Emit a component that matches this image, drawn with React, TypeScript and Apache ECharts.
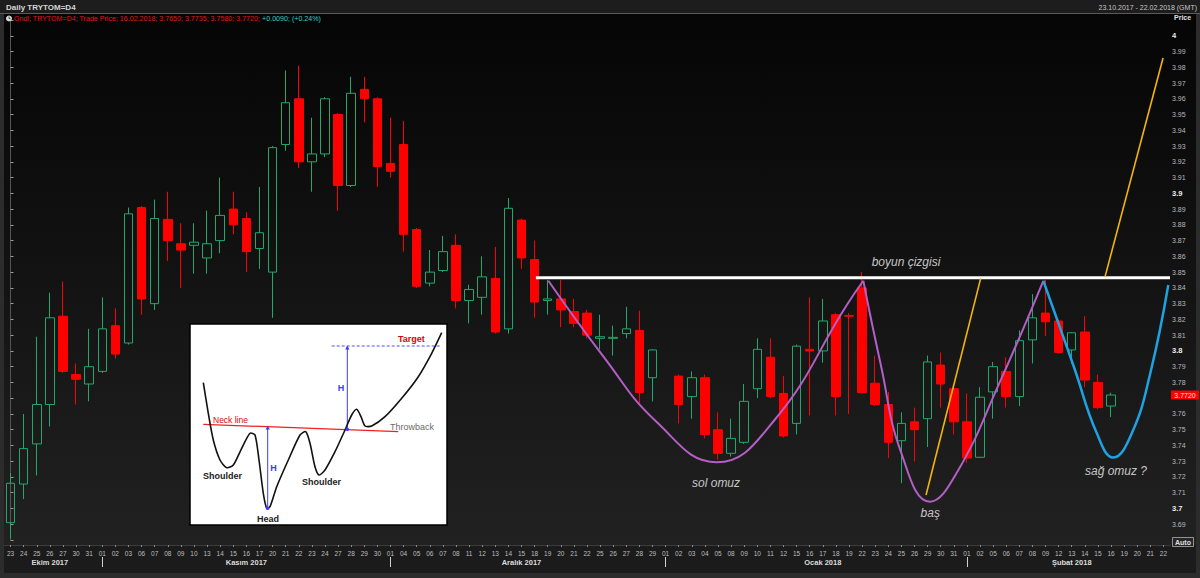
import React, { useEffect, useRef } from "react";
import * as echarts from "echarts";

// ---------- DATA ----------
const dates = [
  "23","24","25","26","27","30","31",
  "01","02","03","06","07","08","09","10","13","14","15","16","17","20","21","22","23","24","27","28","29","30",
  "01","04","05","06","07","08","11","12","13","14","15","18","19","20","21","22","25","26","27","28","29",
  "01","02","03","04","05","08","09","10","11","12","15","16","17","18","19","22","23","24","25","26","29","30","31",
  "01","02","05","06","07","08","09","12","13","14","15","16","19","20","21","22",
];
const monthNames = ["Ekim 2017", "Kasım 2017", "Aralık 2017", "Ocak 2018", "Şubat 2018"];
const monthLabelIdx = [3, 18, 39, 62, 81];
const monthStartIdx = [7, 29, 50, 73];

const opens: (number | null)[] = [
  3.691,3.7155,3.741,3.766,3.822,3.785,3.779,3.787,3.816,3.805,3.891,3.830,3.8835,3.868,3.867,3.859,3.870,3.890,3.884,3.865,
  3.850,3.931,3.960,3.920,3.925,3.950,3.905,3.966,3.960,3.919,3.931,3.877,3.843,3.851,3.867,3.832,3.834,3.846,3.814,3.883,
  3.858,3.832,3.833,3.825,3.824,3.808,3.808,3.811,3.813,3.783,null,3.784,3.771,3.783,3.750,3.735,3.742,3.776,3.796,3.773,
  3.754,3.801,3.800,3.823,3.8225,3.840,3.7795,3.766,3.743,3.755,3.757,3.791,3.776,3.755,3.7325,3.774,3.787,3.771,3.807,3.824,
  3.819,3.8006,3.812,3.780,3.765,
];
const highs: (number | null)[] = [
  3.7225,3.760,3.809,3.837,3.844,3.792,3.814,3.834,3.827,3.891,3.892,3.896,3.901,3.881,3.881,3.889,3.910,3.901,3.888,3.904,
  3.930,3.978,3.981,3.948,3.961,3.951,3.974,3.974,3.961,3.948,3.946,3.878,3.864,3.873,3.874,3.842,3.860,3.866,3.897,3.884,
  3.870,3.845,3.845,3.833,3.826,3.823,3.816,3.828,3.8255,3.801,null,3.785,3.787,3.785,3.761,3.757,3.779,3.808,3.808,3.784,
  3.804,3.834,3.833,3.824,3.824,3.850,3.797,3.774,3.761,3.764,3.797,3.799,3.777,3.773,3.777,3.793,3.796,3.813,3.836,3.845,
  3.820,3.812,3.822,3.785,3.7735,
];
const lows: (number | null)[] = [
  3.681,3.706,3.721,3.752,3.786,3.766,3.768,3.786,3.795,3.804,3.823,3.826,3.857,3.840,3.849,3.849,3.862,3.874,3.850,3.852,
  3.821,3.927,3.916,3.901,3.923,3.889,3.904,3.945,3.904,3.910,3.863,3.840,3.841,3.850,3.827,3.8175,3.823,3.811,3.811,3.852,
  3.821,3.823,3.815,3.815,3.808,3.801,3.797,3.808,3.767,3.768,null,3.754,3.757,3.7445,3.731,3.733,3.741,3.770,3.770,3.745,
  3.747,3.759,3.7925,3.759,3.760,3.773,3.765,3.732,3.716,3.730,3.739,3.764,3.747,3.729,3.732,3.757,3.764,3.765,3.792,3.8095,
  3.7985,3.792,3.777,3.763,3.758,
];
const closes: (number | null)[] = [
  3.716,3.738,3.766,3.821,3.787,3.782,3.790,3.814,3.798,3.887,3.833,3.884,3.870,3.864,3.869,3.868,3.886,3.880,3.863,3.875,
  3.929,3.9575,3.920,3.925,3.960,3.905,3.9635,3.960,3.917,3.914,3.874,3.841,3.850,3.863,3.832,3.839,3.847,3.812,3.8905,3.859,
  3.831,3.833,3.826,3.8175,3.810,3.809,3.8086,3.814,3.7735,3.8006,null,3.766,3.783,3.747,3.735,3.7445,3.768,3.801,3.771,3.746,
  3.803,3.800,3.819,3.771,3.822,3.7735,3.766,3.742,3.754,3.750,3.793,3.779,3.755,3.732,3.7706,3.790,3.771,3.8065,3.821,3.8185,
  3.799,3.8115,3.7815,3.764,3.772,
];
const lastPriceLabel = "3.7720";

// drawn annotations, in [day index, price]
const neckLine = [[40.1, 3.8465], [88.5, 3.8465]];
const leftShoulderCurve = [
  [41.05, 3.8445], [45.2, 3.797], [49.3, 3.755], [53.9, 3.7293],
  [58.3, 3.756], [63.82, 3.829], [65.09, 3.8445],
];
const headCurve = [
  [65.09, 3.8445], [66.4, 3.7922], [68.0, 3.735], [70.18, 3.7043],
  [72.2, 3.7223], [75.5, 3.780], [78.83, 3.8445],
];
const rightShoulderCurve = [
  [78.83, 3.8445], [81.2, 3.789], [82.9, 3.748], [84.17, 3.7323],
  [85.6, 3.748], [87.0, 3.786], [88.37, 3.8418],
];
const breakoutLine1 = [[69.88, 3.7086], [74.05, 3.846]];
const breakoutLine2 = [[83.54, 3.847], [87.97, 3.9859]];
const annotationTexts = [
  { name: "boyun çizgisi", value: [68.35, 3.8564] },
  { name: "sol omuz", value: [53.85, 3.7162] },
  { name: "baş", value: [70.2, 3.6971] },
  { name: "sağ omuz ?", value: [84.38, 3.7238] },
];

const headerTitle = "Daily TRYTOM=D4";
const headerRange = "23.10.2017 - 22.02.2018 (GMT)";
const headerInfo = "Gndl; TRYTOM=D4; Trade Price; 16.02.2018; 3.7650; 3.7735; 3.7580; 3.7720; ";
const headerChange = "+0.0090; (+0.24%)";

// inset illustration (a picture pasted on the chart), pixel shape
const insetCurve = [
  [203.3,382.7],[208.3,413.3],[213.3,440],[220,460],[226.7,467.7],[233.3,465],[241.7,448.3],[250,433.3],[255,435],
  [259,460],[263.3,493.3],[266.7,508.3],[270,506.7],[276.7,486.7],[288.3,460],[300,435],[305.7,431.7],[310,443.3],
  [315,466.7],[319,475],[325,470],[335,451.7],[345,430],[351.7,415],[356.7,409.3],[361,416.7],[365,426],[371.7,426],
  [385,416.7],[401.7,398.3],[418.3,376.7],[431.7,353.3],[441.7,332.7],
];

const FONT = '"Liberation Sans", Arial, sans-serif';

export default function App() {
  const ref = useRef<HTMLDivElement>(null);

  useEffect(() => {
    const chart = echarts.init(ref.current!, null, { renderer: "svg" });
    const candleData = opens.map((o, i) =>
      o == null ? ["-", "-", "-", "-"] : [o, closes[i], lows[i], highs[i]]
    );

    const lineSeries = (data: number[][], color: string, width: number, smooth: number | boolean) => ({
      type: "line",
      xAxisIndex: 2,
      yAxisIndex: 0,
      data,
      symbol: "none",
      smooth,
      lineStyle: { color, width },
      z: 5,
      silent: true,
    });

    const option: any = {
      animation: false,
      backgroundColor: "#2c2c2c",
      grid: { left: 4, right: 30, top: 20, height: 520 },
      xAxis: [
        {
          type: "category",
          position: "bottom",
          data: dates,
          boundaryGap: true,
          offset: 5,
          axisLine: { show: true, lineStyle: { color: "#3c3c3c" } },
          axisTick: { show: true, interval: 0, alignWithLabel: true, length: 2, lineStyle: { color: "#888" } },
          axisLabel: { interval: 0, fontSize: 6.5, color: "#bdbdbd", margin: 5, fontFamily: FONT },
          splitLine: { show: false },
        },
        {
          type: "category",
          position: "bottom",
          data: dates,
          boundaryGap: true,
          offset: 17,
          axisLine: { show: false },
          axisTick: {
            show: true,
            alignWithLabel: true,
            interval: (i: number) => monthStartIdx.includes(i),
            length: 10,
            lineStyle: { color: "#cfcfcf", width: 1 },
          },
          axisLabel: {
            interval: (i: number) => monthLabelIdx.includes(i),
            formatter: (_v: string, i: number) => monthNames[monthLabelIdx.indexOf(i)] ?? "",
            fontSize: 7.5,
            fontWeight: "bold",
            color: "#dcdcdc",
            margin: 1,
            fontFamily: FONT,
          },
          splitLine: { show: false },
        },
        { type: "value", position: "bottom", min: -0.5, max: 88.5, show: false },
      ],
      yAxis: [
        {
          type: "value",
          position: "right",
          min: 3.68,
          max: 4.01,
          interval: 0.01,
          axisLine: { show: true, lineStyle: { color: "#555" } },
          axisTick: { show: true, length: 3, lineStyle: { color: "#999" } },
          splitLine: { show: false },
          axisLabel: {
            margin: 2,
            fontSize: 7,
            color: "#b8b8b8",
            fontFamily: FONT,
            formatter: (v: number) => {
              const r = Math.round(v * 100);
              if (r > 400 || r < 369) return "";
              if (r === 377) return ""; // hidden behind the last-price label
              if (r % 10 === 0) return "{b|" + String(r / 100) + "}";
              return (r / 100).toFixed(2);
            },
            rich: { b: { fontWeight: "bold", color: "#eeeeee", fontSize: 7.5, fontFamily: FONT } },
          },
        },
      ],
      series: [
        {
          type: "candlestick",
          xAxisIndex: 0,
          yAxisIndex: 0,
          data: candleData,
          barWidth: 9,
          itemStyle: {
            color: "rgba(0,0,0,0)",
            color0: "#ff0000",
            borderColor: "#22a86a",
            borderColor0: "#ff0000",
            borderWidth: 1,
          },
          z: 3,
          silent: true,
        },
        lineSeries(neckLine, "#ffffff", 3, false),
        lineSeries(leftShoulderCurve, "#b45ec6", 2, 0.45),
        lineSeries(headCurve, "#b45ec6", 2, 0.45),
        lineSeries(rightShoulderCurve, "#1ea2e2", 2.5, 0.45),
        lineSeries(breakoutLine1, "#f3b50a", 1.6, false),
        lineSeries(breakoutLine2, "#f3b50a", 1.6, false),
        {
          type: "scatter",
          xAxisIndex: 2,
          yAxisIndex: 0,
          data: annotationTexts,
          symbolSize: 0,
          silent: true,
          z: 6,
          label: {
            show: true,
            position: "inside",
            formatter: "{b}",
            color: "#f2f2f2",
            fontSize: 12,
            fontStyle: "italic",
            fontFamily: FONT,
          },
        },
      ],
    };
    chart.setOption(option);

    const py = chart.convertToPixel({ yAxisIndex: 0 }, closes[closes.length - 1] as number) as number;

    const t = (x: number, y: number, text: string, font: string, fill: string, align = "left", z = 101) => ({
      type: "text",
      x,
      y,
      z,
      silent: true,
      style: { text, font, fill, textAlign: align, textVerticalAlign: "middle" },
    });

    const blue = "#3b3bff";
    const graphic: any[] = [
      // panel backgrounds
      {
        type: "rect", z: -10, silent: true,
        shape: { x: 4, y: 14, width: 1192, height: 531 },
        style: {
          fill: new echarts.graphic.LinearGradient(0, 0, 0, 1, [
            { offset: 0, color: "#050505" },
            { offset: 1, color: "#212121" },
          ]),
        },
      },
      { type: "rect", z: -10, silent: true, shape: { x: 4, y: 545, width: 1192, height: 28 }, style: { fill: "#1b1b1b" } },
      { type: "rect", z: -10, silent: true, shape: { x: 0, y: 0, width: 1200, height: 13 }, style: { fill: "#1d1d1d" } },
      { type: "line", z: -9, silent: true, shape: { x1: 0, y1: 13.5, x2: 1200, y2: 13.5 }, style: { stroke: "#5a5a5a", lineWidth: 1 } },
      t(6, 7, headerTitle, `bold 8px ${FONT}`, "#d6d6d6", "left", 10),
      t(1197, 7, headerRange, `7px ${FONT}`, "#c8c8c8", "right", 10),
      { type: "circle", z: 10, silent: true, shape: { cx: 9, cy: 18.5, r: 3 }, style: { fill: "#d8d8d8" } },
      { type: "line", z: 11, silent: true, shape: { x1: 9, y1: 18.5, x2: 9, y2: 16.5 }, style: { stroke: "#333", lineWidth: 0.8 } },
      { type: "line", z: 11, silent: true, shape: { x1: 9, y1: 18.5, x2: 10.5, y2: 18.5 }, style: { stroke: "#333", lineWidth: 0.8 } },
      {
        type: "text", z: 10, x: 14, y: 18.5, silent: true,
        style: {
          text: `{r|${headerInfo}}{c|${headerChange}}`,
          textVerticalAlign: "middle",
          rich: {
            r: { fill: "#e01818", font: `7.1px ${FONT}` },
            c: { fill: "#2cd0d0", font: `7.1px ${FONT}` },
          },
        },
      },
      t(1174, 17.5, "Price", `bold 7px ${FONT}`, "#e0e0e0", "left", 10),
      // Auto box
      { type: "rect", z: 10, silent: true, shape: { x: 1172.5, y: 537.5, width: 21, height: 9 }, style: { fill: "#262626", stroke: "#b0b0b0", lineWidth: 0.8 } },
      t(1183, 542, "Auto", `bold 7px ${FONT}`, "#e0e0e0", "center", 11),
      // last price label
      { type: "rect", z: 10, silent: true, shape: { x: 1171, y: py - 4.5, width: 28, height: 9 }, style: { fill: "#ff0000" } },
      t(1185, py, lastPriceLabel, `7px ${FONT}`, "#ffe0e0", "center", 11),

      // inset illustration
      { type: "rect", z: 100, silent: true, shape: { x: 190, y: 324, width: 257, height: 201 }, style: { fill: "#ffffff", stroke: "#000000", lineWidth: 1.5 } },
      { type: "line", z: 101, silent: true, shape: { x1: 203.3, y1: 424.3, x2: 398.3, y2: 431.7 }, style: { stroke: "#f02020", lineWidth: 1.3 } },
      { type: "polyline", z: 102, silent: true, shape: { points: insetCurve, smooth: 0.25 }, style: { stroke: "#111111", lineWidth: 1.6, fill: null } },
      { type: "line", z: 101, silent: true, shape: { x1: 267.7, y1: 427.3, x2: 267.7, y2: 508.3 }, style: { stroke: blue, lineWidth: 1 } },
      { type: "line", z: 101, silent: true, shape: { x1: 347.3, y1: 429.3, x2: 347.3, y2: 347.5 }, style: { stroke: blue, lineWidth: 1 } },
      { type: "line", z: 101, silent: true, shape: { x1: 331.7, y1: 346, x2: 441.7, y2: 346 }, style: { stroke: blue, lineWidth: 0.9, lineDash: [3, 2] } },
      { type: "polygon", z: 103, silent: true, shape: { points: [[267.7, 425.5], [265.6, 429.5], [269.8, 429.5]] }, style: { fill: blue } },
      { type: "polygon", z: 103, silent: true, shape: { points: [[347.3, 345.5], [345.2, 349.5], [349.4, 349.5]] }, style: { fill: blue } },
      { type: "circle", z: 103, silent: true, shape: { cx: 267.7, cy: 508.3, r: 1.8 }, style: { fill: blue } },
      { type: "circle", z: 103, silent: true, shape: { cx: 347.3, cy: 429.3, r: 1.8 }, style: { fill: blue } },
      t(213, 420, "Neck line", `8.5px ${FONT}`, "#e00000"),
      t(390, 427, "Throwback", `9px ${FONT}`, "#6a6a6a"),
      t(398, 339, "Target", `bold 9px ${FONT}`, "#e00000"),
      t(203, 476, "Shoulder", `bold 9px ${FONT}`, "#222222"),
      t(302, 482, "Shoulder", `bold 9px ${FONT}`, "#222222"),
      t(257, 519, "Head", `bold 9px ${FONT}`, "#222222"),
      t(273.5, 468, "H", `bold 9px ${FONT}`, blue, "center"),
      t(341, 388, "H", `bold 9px ${FONT}`, blue, "center"),
    ];
    chart.setOption({ graphic });

    return () => chart.dispose();
  }, []);

  return (
    <div
      ref={ref}
      style={{ position: "fixed", left: 0, top: 0, width: 1200, height: 578 }}
    />
  );
}
